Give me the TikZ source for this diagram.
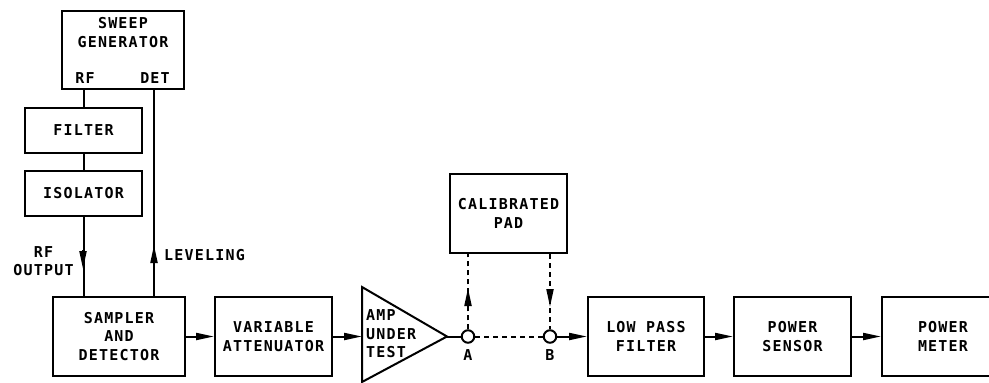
\documentclass[tikz,border=0pt]{standalone}
\usepackage{fontspec}
\newfontfamily\cadfont[LetterSpace=8]{DejaVu Sans Mono Bold}
\newcommand\cadtext{\cadfont\fontsize{15}{18.5}\selectfont}
\usetikzlibrary{arrows.meta}
\begin{document}
\begin{tikzpicture}[x=1pt,y=-1pt,
  lw/.style={line width=2pt},
  box/.style={draw,line width=2pt,inner sep=0pt,align=center,font=\cadtext},
  lbl/.style={inner sep=0pt,font=\cadtext,align=center},
  arr/.style={-{Triangle[length=18pt,width=7pt]}},
  dsh/.style={dash pattern=on 5pt off 4pt},
  port/.style={circle,draw,line width=2pt,minimum size=12.5pt,inner sep=0pt,fill=white},
]
\useasboundingbox (0,0) rectangle (989,383);
% boxes
\node[box,minimum width=122pt,minimum height=78pt] (sweep) at (123,50) {};
\node[lbl] (sweeptxt) at (123,32.5) {SWEEP\\GENERATOR};
\node[lbl] (rflbl) at (85,78) {RF};
\node[lbl] (detlbl) at (155,78) {DET};
\node[box,minimum width=117pt,minimum height=45pt] (filter) at (83.5,130.5) {FILTER};
\node[box,minimum width=117pt,minimum height=45pt] (iso) at (83.5,193.5) {ISOLATOR};
\node[box,minimum width=132pt,minimum height=79pt] (samp) at (119,336.5) {SAMPLER\\AND\\DETECTOR};
\node[box,minimum width=117pt,minimum height=79pt] (att) at (273.5,336.5) {VARIABLE\\ATTENUATOR};
\node[box,minimum width=117pt,minimum height=79pt] (pad) at (508.5,213.5) {CALIBRATED\\PAD};
\node[box,minimum width=116pt,minimum height=79pt] (lpf) at (646,336.5) {LOW PASS\\FILTER};
\node[box,minimum width=117pt,minimum height=79pt] (ps) at (792.5,336.5) {POWER\\SENSOR};
\node[box,minimum width=122pt,minimum height=79pt] (pm) at (943,336.5) {POWER\\METER};
% amplifier
\coordinate (amptop) at (362,287);
\coordinate (ampbot) at (362,382);
\coordinate (ampin) at (362,336.5);
\coordinate (ampout) at (447,336.5);
\draw[lw,line join=miter] (amptop) -- (ampbot) -- (ampout) -- cycle;
\node[lbl,anchor=west,align=left] (amptxt) at (366,334) {AMP\\UNDER\\TEST};
% ports
\node[port] (A) at (468,336.5) {};
\node[port] (B) at (550,336.5) {};
\node[lbl] (Albl) at (468,355) {A};
\node[lbl] (Blbl) at (550,355) {B};
% labels
\node[lbl] (rfout) at (43.5,261) {RF\\OUTPUT};
\node[lbl,anchor=west] (lev) at (164,255) {LEVELING};
% arrow helper coordinates
\coordinate (rfa) at (83,250);
\coordinate (rfb) at (83,269);
\coordinate (leva) at (154,264);
\coordinate (levb) at (154,245);
\coordinate (Aa) at (468,306);
\coordinate (Ab) at (468,288);
\coordinate (Ba) at (550,289);
\coordinate (Bb) at (550,307);
% connectors
\draw[lw] (sweep.south -| filter.north) -- (filter.north);
\draw[lw] (filter.south) -- (iso.north);
\draw[lw] (iso.south) -- (iso.south |- samp.north);
\draw[lw,arr] (rfa) -- (rfb);
\draw[lw] (154,89) -- (154,297);
\draw[lw,arr] (leva) -- (levb);
\draw[lw,arr] (samp.east) -- (att.west);
\draw[lw,arr] (att.east) -- (ampin);
\draw[lw] (ampout) -- (A.west);
\draw[lw,dsh] (A.east) -- (B.west);
\draw[lw,dsh] (A.north) -- (A.north |- pad.south);
\draw[lw,dsh] (B.north |- pad.south) -- (B.north);
\draw[lw,arr] (Aa) -- (Ab);
\draw[lw,arr] (Ba) -- (Bb);
\draw[lw,arr] (B.east) -- (lpf.west);
\draw[lw,arr] (lpf.east) -- (ps.west);
\draw[lw,arr] (ps.east) -- (pm.west);
\end{tikzpicture}
\end{document}
